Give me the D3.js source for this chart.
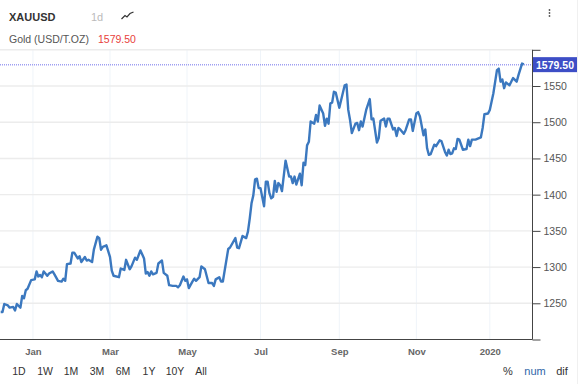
<!DOCTYPE html>
<html>
<head>
<meta charset="utf-8">
<script src="https://cdn.jsdelivr.net/npm/d3@7"></script>
<style>
  html, body { margin: 0; padding: 0; background: #fff; }
  svg { display: block; font-family: "Liberation Sans", Arial, sans-serif; }
</style>
</head>
<body>
<svg id="chart" width="580" height="384"></svg>
<script>
// chart values. x is the trading session number, because the axis is ordinal
const sessions = [0,1,2,4,5,7,8,9,11,12,13,14,15,17,19,20,21,22,23,24,26,27,29,30,32,34,35,36,37,39,40,41,43,44,45,47,48,49,51,52,54,55,56,57,59,61,62,63,66,67,69,70,72,73,
  75,76,78,80,81,82,83,84,85,87,88,90,91,93,94,96,98,99,100,102,103,104,105,107,108,109,111,112,114,116,118,119,120,122,123,124,127,128,131,132,133,135,137,138,139,
  140,141,142,143,144,145,147,148,149,150,151,152,153,154,155,156,157,159,161,162,163,164,165,167,168,169,170,171,172,173,175,176,177,178,180,181,182,183,184,185,186,187,189,192,193,194,195,196,198,199,200,201,
  202,204,206,207,208,210,211,212,214,215,216,217,219,220,221,222,223,225,226,228,229,230,232,233,234,236,237,238,239,240,242,243,245,246,248,249,250,251,252,253,254,255,256,258,260,261,262,263,265,268,269,270,272,273,275,277,278,279,280,281,282,284,286,288,289,291,292];
const closes = [1238,1238,1249,1247,1244,1245,1240,1249,1244,1260,1257,1268,1270,1282,1283,1294,1287,1289,1286,1294,1288,1291,1294,1290,1281,1280,1284,1281,1304,1305,1320,1320,1312,1315,1307,1314,1309,1310,1307,1324,1342,1340,1324,1328,1330,1314,1295,1288,1286,1298,1296,1310,1297,1301,
  1313,1310,1323,1312,1291,1293,1288,1294,1290,1292,1305,1309,1292,1288,1275,1274,1274,1272,1275,1287,1281,1283,1271,1280,1284,1281,1286,1301,1297,1278,1278,1274,1283,1286,1280,1280,1325,1327,1340,1327,1326,1343,1340,1349,1367,
  1388,1399,1421,1422,1409,1409,1384,1418,1418,1402,1395,1397,1419,1404,1416,1413,1405,1447,1425,1425,1416,1425,1414,1429,1413,1444,1441,1468,1473,1501,1498,1510,1501,1523,1512,1495,1505,1498,1526,1527,1542,1541,1520,1551,1552,1517,1503,1485,1498,1499,1489,1501,
  1494,1517,1532,1504,1505,1472,1478,1502,1505,1494,1505,1505,1490,1492,1481,1492,1490,1484,1489,1504,1504,1488,1512,1514,1508,1482,1490,1464,1455,1456,1469,1467,1475,1474,1459,1454,1462,1456,1457,1464,1463,1477,1476,1462,1463,1476,1467,1476,1476,1479,1492,1511,1512,1517,1540,1572,1574,1556,1559,1547,1555,1551,1561,1556,1565,1581,1580];
const monthSessions = [18,61,104,145,189,232,273];
const monthLabels = ["Jan","Mar","May","Jul","Sep","Nov","2020"];
const priceTicks = [1200,1250,1300,1350,1400,1450,1500,1550,1600];
const lastPrice = 1579.5;
const rangeButtons = ["1D","1W","1M","3M","6M","1Y","10Y","All"];
const modeButtons = ["%","num","dif"];

const svg = d3.select("#chart");
const axisX = 532.5;

const xScale = d3.scaleLinear().domain([0,297]).range([0.7,532.8]);
const yScale = d3.scaleLinear().domain([1200,1600]).range([339.5,49.8]);

// grid
svg.append("g").selectAll("line").data(monthSessions).join("line")
  .attr("x1", d => xScale(d)).attr("x2", d => xScale(d))
  .attr("y1", yScale(1600)).attr("y2", yScale(1200))
  .attr("stroke", "#eff4f9");
svg.append("g").selectAll("line").data(priceTicks.slice(1)).join("line")
  .attr("x1", 0).attr("x2", axisX)
  .attr("y1", d => yScale(d)).attr("y2", d => yScale(d))
  .attr("stroke", "#ececec").attr("stroke-width", 1.4);

// price marker line
svg.append("line")
  .attr("x1", 0).attr("x2", axisX)
  .attr("y1", yScale(lastPrice)).attr("y2", yScale(lastPrice))
  .attr("stroke", "#9f9ff2").attr("stroke-width", 1.5).attr("stroke-dasharray", "1,1");

// series
const line = d3.line().x(d => xScale(d[0])).y(d => yScale(d[1]));
svg.append("path")
  .datum(d3.zip(sessions, closes))
  .attr("d", line)
  .attr("fill", "none")
  .attr("stroke", "#3b78bf")
  .attr("stroke-width", 2.4)
  .attr("stroke-linejoin", "round");

// axes
const yAxis = d3.axisRight(yScale)
  .tickValues(priceTicks)
  .tickSize(8)
  .tickPadding(3)
  .tickFormat(d => (d === 1200 || d === 1600) ? "" : d);
const yAxisG = svg.append("g")
  .attr("transform", `translate(${axisX},0)`)
  .call(yAxis);
yAxisG.select(".domain").attr("stroke", "#444").attr("d", `M0,${yScale(1600)}V${yScale(1200)}`);
yAxisG.selectAll(".tick line").attr("stroke", "#444");
yAxisG.selectAll(".tick text")
  .attr("font-size", "10.5px").attr("font-family", "Liberation Sans").attr("fill", "#555");

const xAxis = d3.axisBottom(xScale)
  .tickValues(monthSessions)
  .tickSize(0)
  .tickPadding(9)
  .tickFormat((d, i) => monthLabels[i]);
const xAxisG = svg.append("g")
  .attr("transform", `translate(0,${yScale(1200)})`)
  .call(xAxis);
xAxisG.select(".domain").attr("stroke", "#444").attr("d", `M0,0H${axisX}`);
xAxisG.selectAll(".tick text")
  .attr("font-size", "9.5px").attr("font-family", "Liberation Sans")
  .attr("font-weight", "bold").attr("fill", "#666");

// last price label
svg.append("rect")
  .attr("x", 533).attr("y", yScale(lastPrice) - 7.5)
  .attr("width", 44).attr("height", 15)
  .attr("fill", "#3d4ec6");
svg.append("text")
  .attr("x", 555).attr("y", yScale(lastPrice) + 4)
  .attr("text-anchor", "middle")
  .attr("font-size", "10.5px").attr("font-weight", "bold").attr("fill", "#fff")
  .text(d3.format(".2f")(lastPrice));

// header
svg.append("text").attr("x", 9).attr("y", 21)
  .attr("font-size", "11px").attr("font-weight", "bold").attr("fill", "#333").text("XAUUSD");
svg.append("text").attr("x", 91).attr("y", 21)
  .attr("font-size", "11px").attr("fill", "#bbb").text("1d");
svg.append("path")
  .attr("d", "M121.5,19L125,15.5L127,17L130,13.5L133.5,12")
  .attr("fill", "none").attr("stroke", "#333").attr("stroke-width", 1.2);
svg.append("text").attr("x", 9).attr("y", 43)
  .attr("font-size", "10.5px").attr("fill", "#555").text("Gold (USD/T.OZ)");
svg.append("text").attr("x", 98).attr("y", 43)
  .attr("font-size", "10.5px").attr("fill", "#e8413c").text(d3.format(".2f")(lastPrice));

// menu dots
svg.append("g").selectAll("circle").data([0,1,2]).join("circle")
  .attr("cx", 549.5).attr("cy", d => 10 + d * 3)
  .attr("r", 0.9).attr("fill", "#555");

// range and mode buttons
const rangeX = d3.scalePoint().domain(rangeButtons).range([19,201]);
svg.append("g").selectAll("text").data(rangeButtons).join("text")
  .attr("x", d => rangeX(d)).attr("y", 375)
  .attr("text-anchor", "middle")
  .attr("font-size", "10.5px").attr("fill", "#333")
  .text(d => d);
const modeX = d3.scalePoint().domain(modeButtons).range([508,562]);
svg.append("g").selectAll("text").data(modeButtons).join("text")
  .attr("x", d => modeX(d)).attr("y", 375)
  .attr("text-anchor", "middle")
  .attr("font-size", "11px").attr("fill", d => d === "num" ? "#2f66a8" : "#333")
  .text(d => d);

// faint frame line on the right
svg.append("line").attr("x1", 577.5).attr("x2", 577.5).attr("y1", 0).attr("y2", 384)
  .attr("stroke", "#f0f0f0");
</script>
</body>
</html>
